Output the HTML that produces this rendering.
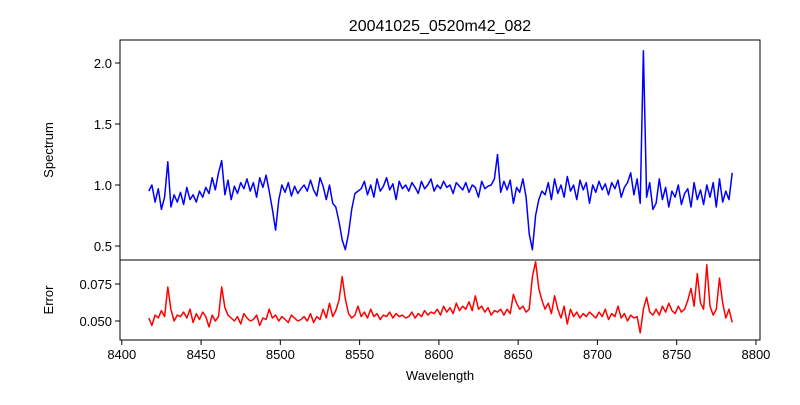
<!DOCTYPE html>
<html><head><meta charset="utf-8"><style>
body{margin:0;background:#fff;}
svg text{font-family:"Liberation Sans","DejaVu Sans",sans-serif;fill:#000;}
</style></head><body>
<svg id="chart" width="800" height="400" xmlns="http://www.w3.org/2000/svg">
<rect width="800" height="400" fill="#fff"/>
<text x="440" y="31" font-size="16" text-anchor="middle">20041025_0520m42_082</text>
<g id="g"></g>
</svg>
<script>
const wlStart = 8417, wlStep = 2;
const spectrum = [
0.95,1.00,0.86,0.97,0.80,0.90,1.19,0.82,0.92,0.86,
0.94,0.84,0.98,0.88,0.92,0.86,0.95,0.90,0.98,0.93,
1.06,0.96,1.10,1.20,0.92,1.04,0.88,0.99,0.93,1.02,
0.97,1.05,0.95,1.02,0.90,1.06,0.98,1.08,0.95,0.80,
0.63,0.88,1.00,0.94,1.02,0.91,0.99,0.93,0.97,1.00,
0.95,1.04,0.96,0.91,1.06,0.99,0.88,1.00,0.85,0.82,
0.70,0.55,0.47,0.60,0.80,0.93,0.95,0.97,1.03,0.92,
1.00,0.90,1.05,0.95,0.99,1.06,0.96,1.01,0.88,1.03,
0.97,1.00,0.95,1.02,0.98,0.93,1.03,0.97,1.00,1.05,
0.95,1.00,0.97,1.03,0.98,1.00,0.93,1.02,0.99,0.96,
1.02,0.94,1.00,0.98,0.90,1.03,0.97,0.99,1.00,1.05,
1.25,0.94,1.03,0.96,1.04,0.85,0.98,0.94,1.05,0.90,
0.60,0.47,0.75,0.88,0.95,0.92,1.02,0.88,1.05,0.93,
1.00,0.90,1.07,0.95,1.00,0.88,1.04,0.96,1.02,0.85,
1.00,0.94,1.03,0.96,1.01,0.92,1.02,0.97,1.04,0.90,
0.98,1.02,1.10,0.92,1.05,0.85,2.10,0.90,1.02,0.80,
0.85,1.05,0.88,0.98,0.82,0.95,0.90,1.00,0.84,0.93,
0.97,0.82,1.02,0.88,0.96,0.84,1.00,0.90,1.02,0.82,
1.05,0.86,0.95,0.88,1.10];
const errorVals = [
0.052,0.047,0.054,0.052,0.057,0.053,0.073,0.058,0.050,0.054,
0.053,0.056,0.052,0.058,0.049,0.055,0.051,0.056,0.053,0.046,
0.054,0.050,0.053,0.073,0.059,0.054,0.052,0.050,0.053,0.048,
0.055,0.052,0.050,0.051,0.054,0.047,0.052,0.051,0.058,0.052,
0.054,0.050,0.053,0.051,0.049,0.054,0.052,0.050,0.051,0.053,
0.050,0.055,0.049,0.053,0.051,0.058,0.052,0.062,0.053,0.057,
0.064,0.080,0.065,0.055,0.052,0.054,0.060,0.053,0.056,0.052,
0.058,0.053,0.055,0.051,0.054,0.053,0.056,0.052,0.055,0.053,
0.054,0.052,0.053,0.056,0.052,0.055,0.053,0.057,0.054,0.056,
0.055,0.058,0.054,0.060,0.056,0.059,0.055,0.062,0.057,0.060,
0.058,0.063,0.057,0.067,0.058,0.060,0.056,0.059,0.054,0.057,
0.056,0.058,0.054,0.058,0.055,0.068,0.062,0.058,0.060,0.056,
0.058,0.080,0.090,0.072,0.064,0.058,0.062,0.055,0.067,0.058,
0.052,0.060,0.048,0.058,0.053,0.056,0.052,0.055,0.053,0.056,
0.054,0.052,0.056,0.053,0.058,0.051,0.055,0.053,0.060,0.052,
0.055,0.050,0.054,0.052,0.053,0.042,0.058,0.066,0.056,0.054,
0.058,0.054,0.060,0.056,0.062,0.057,0.055,0.060,0.056,0.058,
0.064,0.072,0.060,0.082,0.062,0.058,0.088,0.060,0.054,0.058,
0.079,0.062,0.052,0.058,0.049];
const xTicks = [8400,8450,8500,8550,8600,8650,8700,8750,8800];
const specTicks = [0.5,1.0,1.5,2.0];
const specTickLabels = ["0.5","1.0","1.5","2.0"];
const errTicks = [0.050,0.075];
const errTickLabels = ["0.050","0.075"];

const L=120,R=760,T1=40,B1=260,T2=260,B2=340;
const xS = w => 121.8 + (w-8400)*1.5854;
const yS1 = v => 185 - (v-1.0)*122;
const yS2 = v => 321 - (v-0.050)*1480;
const NS="http://www.w3.org/2000/svg";
const g=document.getElementById('g');
function mk(tag,attrs,parent){const e=document.createElementNS(NS,tag);for(const k in attrs)e.setAttribute(k,attrs[k]);(parent||g).appendChild(e);return e;}

function series(vals,yS,color,name){
  const pts=vals.map((v,i)=>xS(wlStart+i*wlStep).toFixed(1)+','+yS(v).toFixed(1)).join(' ');
  const p=mk('polyline',{points:pts,fill:'none',stroke:color,'stroke-width':1.5,'stroke-linejoin':'round'});
  
  
}
series(spectrum,yS1,'#0000ff','spectrum-line');
series(errorVals,yS2,'#ff0000','error-line');

const f1=mk('rect',{x:L,y:T1,width:R-L,height:B1-T1,fill:'none',stroke:'#000','stroke-width':1});


const f2=mk('rect',{x:L,y:T2,width:R-L,height:B2-T2,fill:'none',stroke:'#000','stroke-width':1});



xTicks.forEach(t=>{
  const x=xS(t);
  mk('line',{x1:x,x2:x,y1:B2,y2:B2+5,stroke:'#000'});
  const tx=mk('text',{x:x,y:B2+19,'font-size':13,'text-anchor':'middle'});
  tx.textContent=t;
  
  
});
specTicks.forEach((t,i)=>{
  const y=yS1(t);
  mk('line',{x1:L-5,x2:L,y1:y,y2:y,stroke:'#000'});
  const tx=mk('text',{x:L-8,y:y+5,'font-size':13,'text-anchor':'end'});
  tx.textContent=specTickLabels[i];
  
  
});
errTicks.forEach((t,i)=>{
  const y=yS2(t);
  mk('line',{x1:L-5,x2:L,y1:y,y2:y,stroke:'#000'});
  const tx=mk('text',{x:L-8,y:y+5,'font-size':13,'text-anchor':'end'});
  tx.textContent=errTickLabels[i];
  
  
});
const xl=mk('text',{x:440,y:380,'font-size':13,'text-anchor':'middle'});
xl.textContent='Wavelength';


const yl1=mk('text',{x:0,y:0,'font-size':13,'text-anchor':'middle',transform:'translate(53,150) rotate(-90)'});
yl1.textContent='Spectrum';


const yl2=mk('text',{x:0,y:0,'font-size':13,'text-anchor':'middle',transform:'translate(53,300) rotate(-90)'});
yl2.textContent='Error';


</script>
</body></html>
